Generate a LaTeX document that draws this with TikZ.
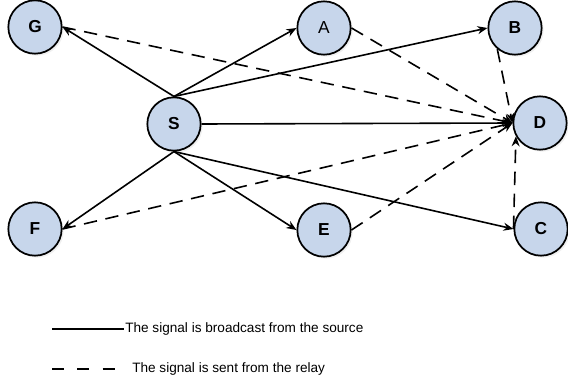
\documentclass[tikz,border=0pt]{standalone}
\usepackage{fontspec}
\setmainfont{Liberation Sans}
\usetikzlibrary{arrows.meta,shadows}
\definecolor{nodeblue}{RGB}{199,214,235}
\begin{document}
\begin{tikzpicture}[x=0.75pt,y=-0.75pt,
  station/.style={circle, draw=black, line width=1.3pt, fill=nodeblue,
    minimum size=40pt, inner sep=0pt,
    font=\bfseries\fontsize{13}{15}\selectfont,
    drop shadow={shadow xshift=1.5pt, shadow yshift=-1.5pt, opacity=0.12}},
  direct/.style={line width=1.2pt, -{Stealth[length=7.5pt,width=6pt]}},
  relay/.style={direct, dash pattern=on 10pt off 6.5pt},
  legendtext/.style={anchor=west, inner sep=0pt, font=\fontsize{10.2}{12}\selectfont},
]
\useasboundingbox (0,0) rectangle (568,382);

% stations
\node[station] (G) at (35,27)  {G};
\node[station] (S) at (174,124) {S};
\node[station, font=\fontsize{13}{15}\selectfont] (A) at (324,28) {A};
\node[station] (B) at (515,28) {B};
\node[station] (D) at (540,123) {D};
\node[station] (F) at (35,229) {F};
\node[station] (E) at (324,230) {E};
\node[station] (C) at (541,229) {C};

% broadcast from the source
\draw[direct] (S.north) -- (G.east);
\draw[direct] (S.north) -- (A.west);
\draw[direct] (S.north) -- (B.west);
\draw[direct] (S.east)  -- (D.west);
\draw[direct] (S.south) -- (F.east);
\draw[direct] (S.south) -- (E.west);
\draw[direct] (S.south) -- (C.west);

% forwarding through the relays
\draw[relay] (G.east)  -- (D.west);
\draw[relay] (A.east)  -- (D.west);
\draw[relay] (B.230)   -- (D.west);
\draw[relay] (F.east)  -- (D.west);
\draw[relay] (E.east)  -- (D.west);
\draw[relay] (C.west)  -- (D.209);

% legend
\coordinate (l1a) at (52,329);
\coordinate (l1b) at (124,329);
\coordinate (l2a) at (52,369);
\coordinate (l2b) at (118,369);
\draw[line width=1.5pt] (l1a) -- (l1b);
\draw[line width=1.7pt, dash pattern=on 9pt off 10pt] (l2a) -- (l2b);
\node[legendtext] (t1) at (125,329) {The signal is broadcast from the source};
\node[legendtext] (t2) at (132,369) {The signal is sent from the relay};
\end{tikzpicture}
\end{document}
